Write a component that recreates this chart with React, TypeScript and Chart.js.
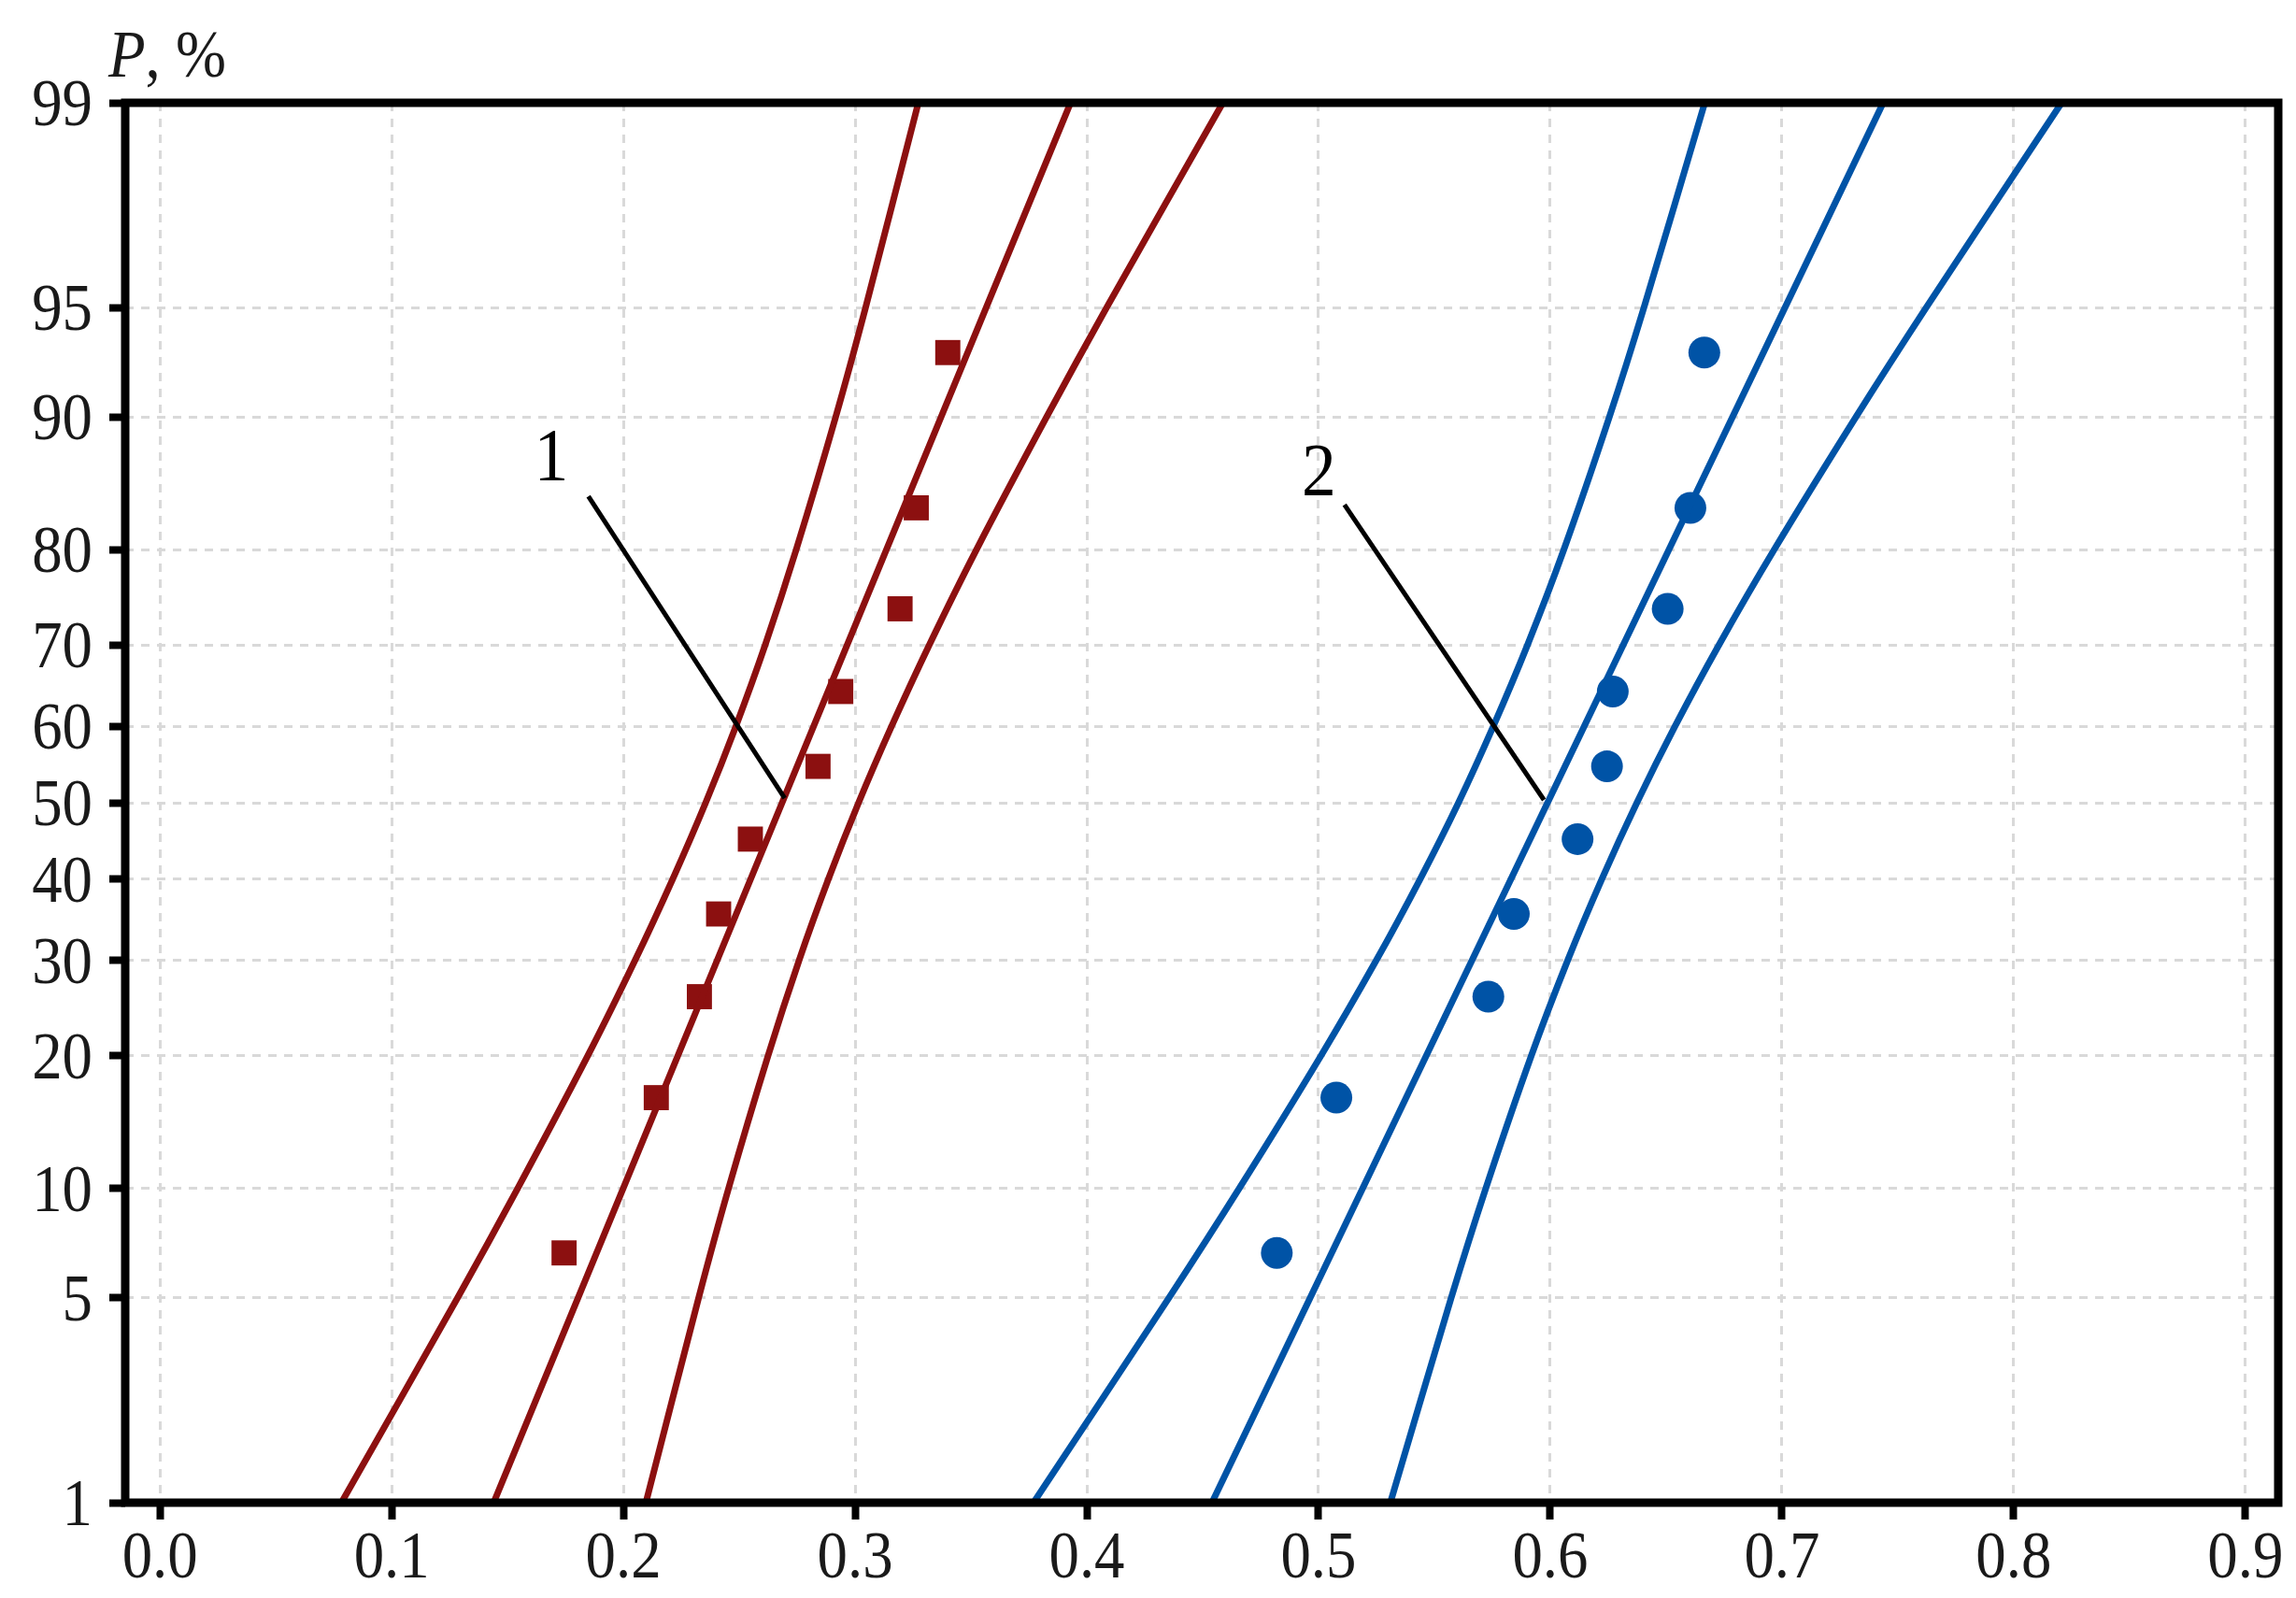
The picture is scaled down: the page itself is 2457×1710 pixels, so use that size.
import React, { useEffect, useRef } from "react";
import { Chart, registerables, Scale, LinearScale } from "chart.js";

Chart.register(...registerables);

// ---------- data ----------
const xTickValues = [0.0, 0.1, 0.2, 0.3, 0.4, 0.5, 0.6, 0.7, 0.8, 0.9];
const yTickValues = [1, 5, 10, 20, 30, 40, 50, 60, 70, 80, 90, 95, 99];

// empirical probabilities (median ranks), %
const rankP = [6.73, 16.35, 25.96, 35.58, 45.19, 54.81, 64.42, 74.04, 83.65, 93.27];

const series1X = [0.1744, 0.2142, 0.2328, 0.2411, 0.2548, 0.284, 0.2938, 0.3194, 0.3264, 0.34];
const series2X = [0.482, 0.5077, 0.5733, 0.5843, 0.6118, 0.6245, 0.627, 0.6507, 0.6605, 0.6665];

// fitted lines (ends at P = 1% and 99%)
const fitP = [1, 99];
const fit1X = [0.144, 0.393];
const fit2X = [0.454, 0.7437];

// confidence bands, read at these P levels
const bandP = [1, 5, 10, 20, 30, 40, 50, 60, 70, 80, 90, 95, 99];
const band1Lower = [0.0783, 0.1285, 0.1544, 0.1846, 0.205, 0.2213, 0.2355, 0.2485, 0.2612, 0.2746, 0.2916, 0.3045, 0.3273];
const band1Upper = [0.2097, 0.2325, 0.2454, 0.2624, 0.2758, 0.2885, 0.3015, 0.3157, 0.332, 0.3524, 0.3826, 0.4085, 0.4587];
const band2Lower = [0.377, 0.4355, 0.4658, 0.501, 0.5249, 0.5439, 0.5604, 0.5754, 0.5902, 0.6059, 0.6255, 0.6404, 0.6667];
const band2Upper = [0.531, 0.5573, 0.5722, 0.5918, 0.6075, 0.6223, 0.6374, 0.6538, 0.6728, 0.6967, 0.7319, 0.7622, 0.8207];

// callout labels (text x, baseline P) and pointers [x1, P1, x2, P2]
const label1 = { text: "1", x: 0.1689, p: 85.8 };
const label2 = { text: "2", x: 0.5002, p: 84.65 };
const pointer1 = [0.1849, 84.58, 0.2696, 50.6];
const pointer2 = [0.5112, 83.9, 0.5973, 50.37];

const RED = "#8c1010";
const BLUE = "#0053a6";

// ---------- probability (normal) axis ----------
function probit(p: number): number {
  const a = [-3.969683028665376e1, 2.209460984245205e2, -2.759285104469687e2, 1.38357751867269e2, -3.066479806614716e1, 2.506628277459239];
  const b = [-5.447609879822406e1, 1.615858368580409e2, -1.556989798598866e2, 6.680131188771972e1, -1.328068155288572e1];
  const c = [-7.784894002430293e-3, -3.223964580411365e-1, -2.400758277161838, -2.549732539343734, 4.374664141464968, 2.938163982698783];
  const d = [7.784695709041462e-3, 3.224671290700398e-1, 2.445134137142996, 3.754408661907416];
  const pl = 0.02425;
  if (p < pl) {
    const q = Math.sqrt(-2 * Math.log(p));
    return (((((c[0] * q + c[1]) * q + c[2]) * q + c[3]) * q + c[4]) * q + c[5]) / ((((d[0] * q + d[1]) * q + d[2]) * q + d[3]) * q + 1);
  }
  if (p <= 1 - pl) {
    const q = p - 0.5;
    const r = q * q;
    return ((((((a[0] * r + a[1]) * r + a[2]) * r + a[3]) * r + a[4]) * r + a[5]) * q) / (((((b[0] * r + b[1]) * r + b[2]) * r + b[3]) * r + b[4]) * r + 1);
  }
  const q = Math.sqrt(-2 * Math.log(1 - p));
  return -(((((c[0] * q + c[1]) * q + c[2]) * q + c[3]) * q + c[4]) * q + c[5]) / ((((d[0] * q + d[1]) * q + d[2]) * q + d[3]) * q + 1);
}

function normCdf(z: number): number {
  const t = 1 / (1 + 0.2316419 * Math.abs(z));
  const dd = 0.3989423 * Math.exp((-z * z) / 2);
  const pr = dd * t * (0.3193815 + t * (-0.3565638 + t * (1.781478 + t * (-1.821256 + t * 1.330274))));
  return z > 0 ? 1 - pr : pr;
}

class ProbitScale extends (Scale as any) {
  static id = "probit";
  static defaults = {};
  _zStart = 0;
  _zRange = 1;
  parse(raw: any, index: number) {
    return (LinearScale.prototype as any).parse.apply(this, [raw, index]);
  }
  determineDataLimits() {
    const o = (this as any).options;
    (this as any).min = o.min ?? 1;
    (this as any).max = o.max ?? 99;
  }
  buildTicks() {
    return yTickValues.map((v) => ({ value: v }));
  }
  getLabelForValue(v: number) {
    return String(v);
  }
  configure() {
    super.configure();
    const self = this as any;
    this._zStart = probit(self.min / 100);
    this._zRange = probit(self.max / 100) - this._zStart;
  }
  getPixelForValue(v: number) {
    return (this as any).getPixelForDecimal((probit(v / 100) - this._zStart) / this._zRange);
  }
  getValueForPixel(px: number) {
    return 100 * normCdf(this._zStart + (this as any).getDecimalForPixel(px) * this._zRange);
  }
}
Chart.register(ProbitScale as any);

const toPts = (xs: number[], ps: number[]) => xs.map((x, i) => ({ x, y: ps[i] }));

const SERIF = '"Liberation Serif", "DejaVu Serif", serif';

function drawText(ctx: CanvasRenderingContext2D, text: string, x: number, y: number, align: CanvasTextAlign, font: string, sx: number, color = "#1a1a1a") {
  ctx.save();
  ctx.translate(x, y);
  ctx.scale(sx, 1);
  ctx.font = font;
  ctx.fillStyle = color;
  ctx.textAlign = align;
  ctx.textBaseline = "alphabetic";
  ctx.fillText(text, 0, 0);
  ctx.restore();
}

const decorPlugin = {
  id: "decor",
  afterDatasetsDraw(chart: any) {
    const ctx: CanvasRenderingContext2D = chart.ctx;
    const xs = chart.scales.x;
    const ys = chart.scales.y;
    const area = chart.chartArea;

    // callout pointers
    ctx.save();
    ctx.strokeStyle = "#000";
    ctx.lineWidth = 5;
    for (const p of [pointer1, pointer2]) {
      ctx.beginPath();
      ctx.moveTo(xs.getPixelForValue(p[0]), ys.getPixelForValue(p[1]));
      ctx.lineTo(xs.getPixelForValue(p[2]), ys.getPixelForValue(p[3]));
      ctx.stroke();
    }
    ctx.restore();
    for (const l of [label1, label2]) {
      drawText(ctx, l.text, xs.getPixelForValue(l.x), ys.getPixelForValue(l.p), "center", `80px ${SERIF}`, 0.92, "#000");
    }

    // frame
    ctx.save();
    ctx.strokeStyle = "#000";
    ctx.lineWidth = 9;
    ctx.strokeRect(area.left, area.top, area.right - area.left, area.bottom - area.top);
    ctx.restore();

    // tick labels
    const font = `72px ${SERIF}`;
    for (const v of xTickValues) {
      drawText(ctx, v.toFixed(1), xs.getPixelForValue(v), 1688, "center", font, 0.9);
    }
    for (const v of yTickValues) {
      drawText(ctx, String(v), 99, ys.getPixelForValue(v) + 24, "right", font, 0.9);
    }

    // axis title
    ctx.save();
    ctx.translate(116, 82);
    ctx.scale(0.9, 1);
    ctx.fillStyle = "#1a1a1a";
    ctx.textBaseline = "alphabetic";
    ctx.textAlign = "left";
    ctx.font = `italic 72px ${SERIF}`;
    ctx.fillText("P", 0, 0);
    const w = ctx.measureText("P").width;
    ctx.font = `72px ${SERIF}`;
    ctx.fillText(", %", w, 0);
    ctx.restore();
  },
};

export default function App() {
  const ref = useRef<HTMLCanvasElement | null>(null);

  useEffect(() => {
    document.body.style.margin = "0";
    if (!ref.current) return;

    const curve = (xsArr: number[], ps: number[], color: string) => ({
      data: toPts(xsArr, ps),
      borderColor: color,
      borderWidth: 7,
      pointRadius: 0,
      fill: false,
      tension: 0.3,
      showLine: true,
    });

    const gridOpts = {
      color: "#d9d9d9",
      lineWidth: 3,
      drawTicks: true,
      tickColor: "#000",
      tickWidth: 8,
      tickBorderDash: [],
    };

    const chart = new Chart(ref.current, {
      type: "line",
      data: {
        datasets: [
          curve(band1Lower, bandP, RED),
          curve(fit1X, fitP, RED),
          curve(band1Upper, bandP, RED),
          curve(band2Lower, bandP, BLUE),
          curve(fit2X, fitP, BLUE),
          curve(band2Upper, bandP, BLUE),
          {
            data: toPts(series1X, rankP),
            showLine: false,
            pointStyle: "rect",
            pointRadius: 19,
            pointBackgroundColor: RED,
            pointBorderWidth: 0,
            borderColor: RED,
          },
          {
            data: toPts(series2X, rankP),
            showLine: false,
            pointStyle: "circle",
            pointRadius: 17,
            pointBackgroundColor: BLUE,
            pointBorderWidth: 0,
            borderColor: BLUE,
          },
        ] as any,
      },
      options: {
        animation: false,
        responsive: false,
        devicePixelRatio: 1,
        layout: { padding: { top: 110, right: 18, left: 0, bottom: 0 } },
        plugins: { legend: { display: false }, tooltip: { enabled: false } },
        scales: {
          x: {
            type: "linear",
            min: -0.015,
            max: 0.9142,
            afterBuildTicks: (s: any) => {
              s.ticks = xTickValues.map((v) => ({ value: v }));
            },
            afterFit: (s: any) => {
              s.height = 102;
            },
            ticks: { display: false },
            border: { display: false, dash: [9, 8] },
            grid: { ...gridOpts, tickLength: 18 },
          },
          y: {
            type: "probit" as any,
            min: 1,
            max: 99,
            afterFit: (s: any) => {
              s.width = 134;
            },
            ticks: { display: false },
            border: { display: false, dash: [9, 8] },
            grid: { ...gridOpts, tickLength: 17 },
          } as any,
        },
      },
      plugins: [decorPlugin],
    });
    return () => chart.destroy();
  }, []);

  return <canvas ref={ref} width={2457} height={1710} style={{ display: "block", width: 2457, height: 1710 }} />;
}
